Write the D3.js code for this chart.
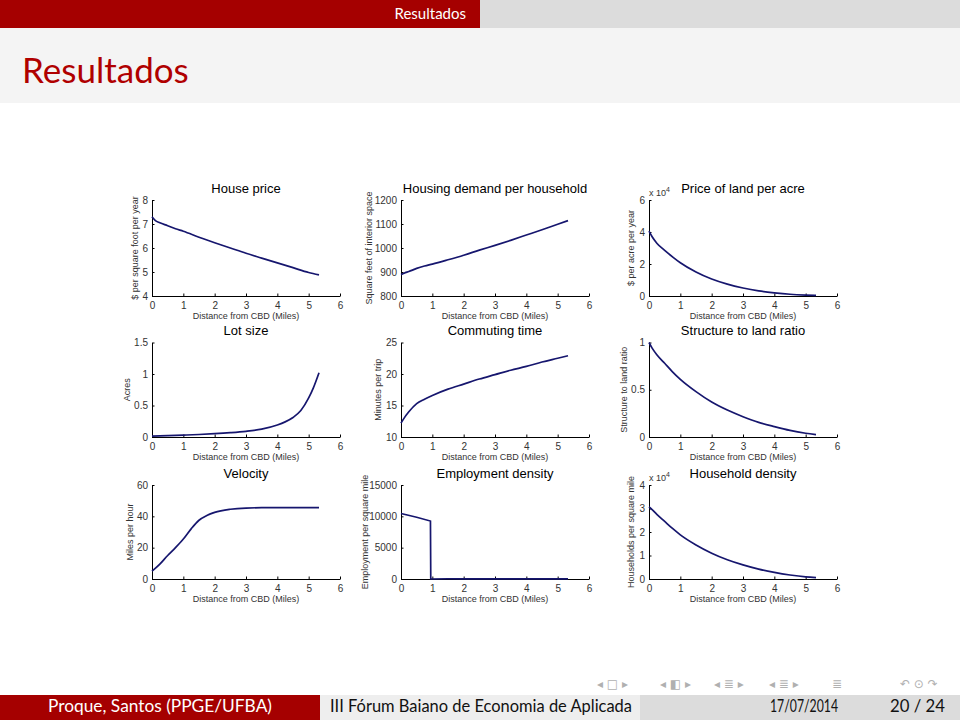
<!DOCTYPE html>
<html><head><meta charset="utf-8">
<script src="https://cdn.jsdelivr.net/npm/d3@7"></script>
<style>body{margin:0;background:#fff}svg{display:block}</style>
</head><body>
<script>
// ---- data ----
const xStd = [0, 0.1, 0.25, 0.5, 0.75, 1, 1.5, 2, 2.5, 3, 3.5, 4, 4.5, 5, 5.33];
const housePrice = [7.3, 7.15, 7.05, 6.93, 6.8, 6.7, 6.45, 6.22, 6.0, 5.78, 5.58, 5.38, 5.18, 4.98, 4.88];
const housingDemand = [889, 895, 902, 915, 925, 933, 951, 970, 991, 1011, 1032, 1054, 1076, 1099, 1114];
const landPrice = [4.05, 3.7, 3.3, 2.85, 2.45, 2.08, 1.5, 1.06, 0.74, 0.5, 0.32, 0.2, 0.11, 0.06, 0.04];
const xLot = [0, 0.5, 1, 1.5, 2, 2.5, 3, 3.5, 4, 4.25, 4.5, 4.75, 5, 5.15, 5.33];
const lotSize = [0.015, 0.022, 0.03, 0.04, 0.052, 0.068, 0.09, 0.125, 0.19, 0.24, 0.31, 0.42, 0.62, 0.78, 1.02];
const commuteTime = [12.2, 13.0, 14.0, 15.3, 16.0, 16.6, 17.6, 18.4, 19.2, 19.9, 20.6, 21.2, 21.9, 22.5, 22.9];
const structRatio = [1.0, 0.94, 0.87, 0.78, 0.69, 0.61, 0.48, 0.37, 0.285, 0.215, 0.155, 0.11, 0.07, 0.04, 0.025];
const xVel = [0, 0.25, 0.5, 0.75, 1, 1.25, 1.5, 1.75, 2, 2.5, 3, 3.5, 4, 5, 5.33];
const velocity = [5, 9.5, 15, 20, 25.5, 32, 37.5, 40.5, 42.5, 44.5, 45.3, 45.5, 45.5, 45.5, 45.5];
const xEmp = [0, 0.5, 0.94, 0.95, 1.5, 2, 3, 4, 5, 5.33];
const employment = [10450, 9850, 9250, 0, 40, 30, 20, 10, 5, 5];
const householdDensity = [3.07, 2.95, 2.75, 2.45, 2.15, 1.88, 1.45, 1.1, 0.82, 0.6, 0.42, 0.28, 0.17, 0.09, 0.06];

const xTicks = [0, 1, 2, 3, 4, 5, 6];
const titles = ["House price", "Housing demand per household", "Price of land per acre",
  "Lot size", "Commuting time", "Structure to land ratio",
  "Velocity", "Employment density", "Household density"];
const yLabels = ["$ per square foot per year", "Square feet of interior space", "$ per acre per year",
  "Acres", "Minutes per trip", "Structure to land ratio",
  "Miles per hour", "Employment per square mile", "Households per square mile"];
const yDomains = [[4, 8], [800, 1200], [0, 6], [0, 1.5], [10, 25], [0, 1], [0, 60], [0, 15000], [0, 4]];
const yTicks = [[4, 5, 6, 7, 8], [800, 900, 1000, 1100, 1200], [0, 2, 4, 6], [0, 0.5, 1, 1.5], [10, 15, 20, 25], [0, 0.5, 1], [0, 20, 40, 60], [0, 5000, 10000, 15000], [0, 1, 2, 3, 4]];
const xSeries = [xStd, xStd, xStd, xLot, xStd, xStd, xVel, xEmp, xStd];
const ySeries = [housePrice, housingDemand, landPrice, lotSize, commuteTime, structRatio, velocity, employment, householdDensity];
const exponentLabel = [null, null, "4", null, null, null, null, null, "4"];
const xLabel = "Distance from CBD (Miles)";

// ---- layout ----
const W = 960, H = 720;
const svg = d3.select("body").append("svg").attr("width", W).attr("height", H);
const red = "#a50000";
const beamerFont = "Lato, 'Open Sans', sans-serif";

// header
svg.append("rect").attr("x", 0).attr("y", 0).attr("width", W).attr("height", 28).attr("fill", "#dcdcdc");
svg.append("rect").attr("x", 0).attr("y", 0).attr("width", 480).attr("height", 28).attr("fill", red);
svg.append("text").attr("x", 466).attr("y", 19).attr("text-anchor", "end").attr("fill", "#fff")
  .attr("font-family", beamerFont).attr("font-size", 15).text("Resultados");
svg.append("rect").attr("x", 0).attr("y", 28).attr("width", W).attr("height", 75).attr("fill", "#f4f4f4");
svg.append("text").attr("x", 22).attr("y", 83).attr("fill", "#b00000")
  .attr("font-family", beamerFont).attr("font-size", 35).text("Resultados");

// footer
svg.append("rect").attr("x", 0).attr("y", 695).attr("width", 320).attr("height", 25).attr("fill", red);
svg.append("rect").attr("x", 320).attr("y", 695).attr("width", 320).attr("height", 25).attr("fill", "#eeeeee");
svg.append("rect").attr("x", 640).attr("y", 695).attr("width", 320).attr("height", 25).attr("fill", "#dcdcdc");
const foot = (x, color, t, len) => svg.append("text").attr("x", x).attr("y", 712)
  .attr("fill", color).attr("font-family", beamerFont).attr("font-size", 16.5)
  .attr("textLength", len).attr("lengthAdjust", "spacingAndGlyphs").text(t);
foot(48, "#fff", "Proque, Santos  (PPGE/UFBA)", 224);
foot(330, "#111", "III Fórum Baiano de Economia de Aplicada", 302);
foot(770, "#111", "17/07/2014", 68);
foot(890, "#111", "20 / 24", 55);
const navItems = [[597, "◂ □ ▸"], [660, "◂ ◧ ▸"], [714, "◂ ≣ ▸"], [769, "◂ ≣ ▸"], [832, "≣"], [900, "↶ ⊙ ↷"]];
navItems.forEach(([x, t]) => svg.append("text").attr("x", x).attr("y", 688).attr("fill", "#b0b0b0")
  .attr("font-family", "DejaVu Sans").attr("font-size", 12).attr("xml:space", "preserve").text(t));

// panels
const colX = [152, 401, 649], rowY = [200, 342.5, 485], rowH = [96, 94.5, 94];
const pw = 188;
const yLabOff = [17, 32, 18, 25, 23, 25, 22, 36, 18];
const chartFont = "'Liberation Sans', Arial, sans-serif";

for (let i = 0; i < 9; i++) {
  const c = i % 3, r = Math.floor(i / 3);
  const x0 = colX[c], y0 = rowY[r], h = rowH[r];
  const g = svg.append("g").attr("transform", `translate(${x0},${y0})`);
  const xs = d3.scaleLinear().domain([0, 6]).range([0, pw]);
  const ys = d3.scaleLinear().domain(yDomains[i]).range([h, 0]);

  const xa = g.append("g").attr("transform", `translate(0,${h})`)
    .call(d3.axisBottom(xs).tickValues(xTicks).tickSizeInner(-2.5).tickSizeOuter(0).tickPadding(5).tickFormat(d3.format("d")));
  const ya = g.append("g")
    .call(d3.axisLeft(ys).tickValues(yTicks[i]).tickSizeInner(-2.5).tickSizeOuter(0).tickPadding(4).tickFormat(d => String(d)));
  [xa, ya].forEach(a => {
    a.selectAll("text").attr("font-family", chartFont).attr("font-size", 10).attr("fill", "#333");
    a.select(".domain").attr("stroke", "#000").attr("stroke-width", 1);
    a.selectAll(".tick line").attr("stroke", "#000");
  });
  xa.selectAll("text").attr("dy", "0.75em");

  const curve = i === 7 ? d3.curveLinear : d3.curveMonotoneX;
  g.append("path").datum(xSeries[i].map((x, k) => [x, ySeries[i][k]]))
    .attr("fill", "none").attr("stroke", "#16166e").attr("stroke-width", 1.7)
    .attr("d", d3.line().curve(curve).x(d => xs(d[0])).y(d => ys(d[1])));

  g.append("text").attr("x", pw / 2).attr("y", -7.5).attr("text-anchor", "middle")
    .attr("font-family", chartFont).attr("font-size", 13).attr("fill", "#000").text(titles[i]);
  g.append("text").attr("x", pw / 2).attr("y", h + 23).attr("text-anchor", "middle")
    .attr("font-family", chartFont).attr("font-size", 9).attr("fill", "#333").text(xLabel);
  g.append("text").attr("transform", `translate(${-yLabOff[i]},${h / 2}) rotate(-90)`)
    .attr("text-anchor", "middle").attr("dy", "0.35em")
    .attr("font-family", chartFont).attr("font-size", 9).attr("fill", "#333").text(yLabels[i]);
  if (exponentLabel[i]) {
    const t = g.append("text").attr("x", 0).attr("y", -4.5)
      .attr("font-family", chartFont).attr("font-size", 9).attr("fill", "#333");
    t.append("tspan").text("x 10");
    t.append("tspan").attr("dy", -4).attr("font-size", 7).text(exponentLabel[i]);
  }
}
</script>
</body></html>
